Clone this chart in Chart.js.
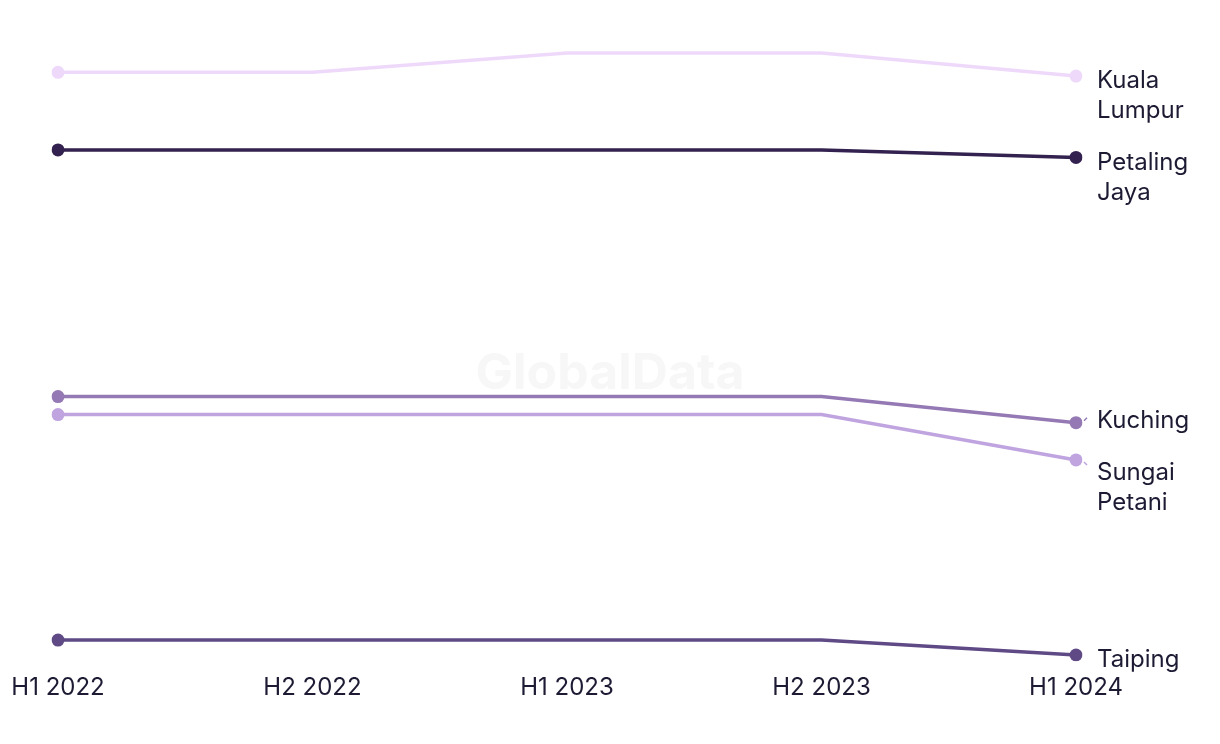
<!DOCTYPE html>
<html>
<head>
<meta charset="utf-8">
<script src="https://cdn.jsdelivr.net/npm/chart.js@4.4.1/dist/chart.umd.min.js"></script>
<style>
html,body{margin:0;padding:0;background:#fff;}
#wrap{width:1220px;height:744px;position:relative;}
</style>
</head>
<body>
<div id="wrap"><canvas id="c" width="1220" height="744"></canvas></div>
<script>
const categories = ['H1 2022', 'H2 2022', 'H1 2023', 'H2 2023', 'H1 2024'];
const seriesNames = ['Kuala Lumpur', 'Petaling Jaya', 'Kuching', 'Sungai Petani', 'Taiping'];
const kualaLumpur = [94.8, 94.8, 97.9, 97.9, 94.2];
const petalingJaya = [82.3, 82.3, 82.3, 82.3, 81.1];
const kuching = [42.6, 42.6, 42.6, 42.6, 38.4];
const sungaiPetani = [39.7, 39.7, 39.7, 39.7, 32.4];
const taiping = [3.4, 3.4, 3.4, 3.4, 1.0];

const colors = ['#efd9fb', '#33214f', '#9479b4', '#bfa4e0', '#5f4a86'];
const allValues = [kualaLumpur, petalingJaya, kuching, sungaiPetani, taiping];
const FONT = 'Inter, "Noto Sans", sans-serif';
const TEXT = '#1d1b33';

const datasets = allValues.map((vals, i) => ({
  label: seriesNames[i],
  data: vals,
  borderColor: colors[i],
  backgroundColor: colors[i],
  borderWidth: 3.5,
  tension: 0,
  pointRadius: ctx => (ctx.dataIndex === 0 || ctx.dataIndex === vals.length - 1) ? 6.5 : 0,
  pointHoverRadius: 0,
  pointBorderWidth: 0
}));

const watermark = {
  id: 'watermark',
  beforeDatasetsDraw(chart) {
    const c = chart.ctx;
    c.save();
    c.font = 'bold 50px ' + FONT;
    c.fillStyle = '#f7f7f7';
    c.textAlign = 'center';
    c.textBaseline = 'middle';
    c.fillText('GlobalData', 610, 374);
    c.restore();
  }
};

const endLabels = {
  id: 'endLabels',
  afterDatasetsDraw(chart) {
    const c = chart.ctx;
    const lineH = 30;
    const items = chart.data.datasets.map((ds, i) => {
      const meta = chart.getDatasetMeta(i);
      const pt = meta.data[meta.data.length - 1];
      const words = ds.label.split(' ');
      return { i, x: pt.x, py: pt.y, y: pt.y + 5, lines: words, color: ds.borderColor };
    }).sort((a, b) => a.py - b.py);
    for (let k = 0; k < items.length - 1; k++) {
      const a = items[k], b = items[k + 1];
      const need = a.lines.length * lineH + 22;
      if (b.y - a.y < need) {
        const mid = (a.y + b.y) / 2;
        a.y = mid - need / 2;
        b.y = mid + need / 2;
      }
    }
    c.save();
    items.forEach(it => {
      const shift = it.y - (it.py + 5);
      if (Math.abs(shift) > 3) {
        c.strokeStyle = it.color;
        c.lineWidth = 1.5;
        const dir = shift < 0 ? -1 : 1;
        c.beginPath();
        c.moveTo(it.x + 8, it.py + dir * 2);
        c.lineTo(it.x + 11, it.py + dir * 5);
        c.stroke();
      }
      c.font = '24px ' + FONT;
      c.fillStyle = TEXT;
      c.textAlign = 'left';
      c.textBaseline = 'middle';
      it.lines.forEach((ln, j) => c.fillText(ln, it.x + 21, it.y + j * lineH));
    });
    c.restore();
  }
};

new Chart(document.getElementById('c'), {
  type: 'line',
  data: { labels: categories, datasets },
  plugins: [watermark, endLabels],
  options: {
    responsive: false,
    animation: false,
    layout: { padding: { left: 58, right: 144, top: 40, bottom: 38 } },
    plugins: { legend: { display: false }, tooltip: { enabled: false } },
    scales: {
      x: {
        offset: false,
        grid: { display: false },
        border: { display: false },
        ticks: { color: TEXT, font: { family: FONT, size: 24 }, padding: 4, maxRotation: 0, autoSkip: false }
      },
      y: {
        display: false,
        min: 0,
        max: 100
      }
    }
  }
});
</script>
</body>
</html>
